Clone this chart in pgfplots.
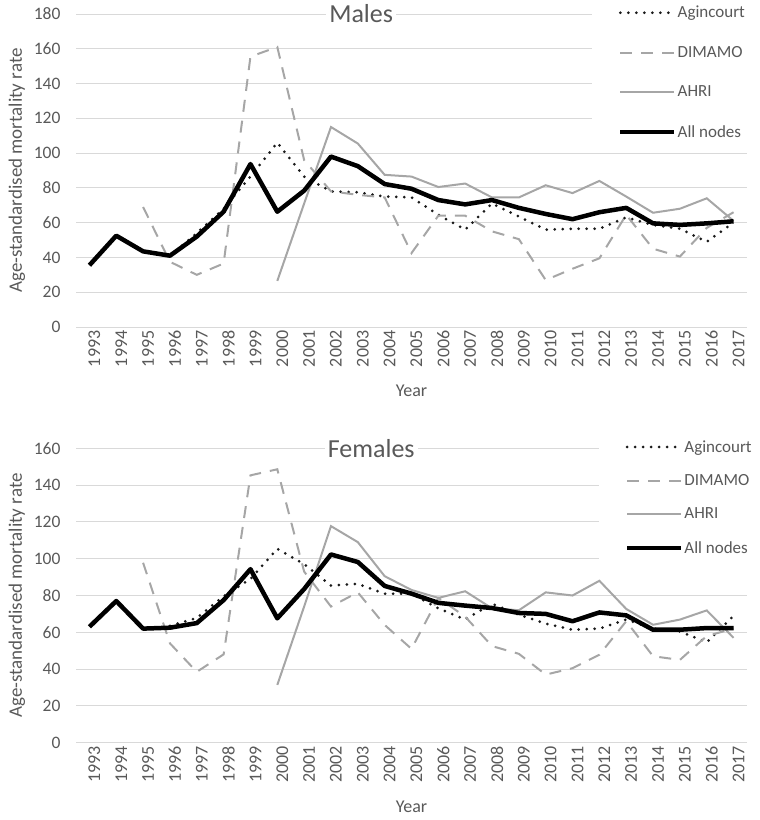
\documentclass[border=0pt]{standalone}
\usepackage{pgfplots}
\pgfplotsset{compat=1.18}
\usepackage{pgfplotstable}
\usepackage{fontspec}
\setmainfont{Carlito}
\definecolor{gridc}{HTML}{D9D9D9}
\definecolor{txt}{HTML}{595959}
\definecolor{lgray}{HTML}{A6A6A6}
\definecolor{dotc}{HTML}{1A1A1A}

\pgfplotstableread{
year agin dimamo ahri all
1993 nan nan nan 35.5
1994 nan nan nan 52.5
1995 nan 69 nan 43.5
1996 41 37.5 nan 41
1997 54 30 nan 52
1998 68 36.5 nan 66.3
1999 86.5 155.5 nan 93.7
2000 106 161 26.5 66.3
2001 86.5 96 71 78.4
2002 78 78 115 98
2003 77.5 76 105.5 92.5
2004 75 74.5 87.5 82.2
2005 74.5 42.5 86.5 79.5
2006 64.5 64 80.5 73
2007 56 64 82.5 70.5
2008 71 55 74.5 73
2009 63.5 50.5 74.5 68.5
2010 56 27 81.5 65
2011 56.5 33.5 77 62
2012 56.5 39.5 84 66
2013 63 64.5 75 68.5
2014 58.7 45 65.7 59.6
2015 56.5 40.5 68 58.7
2016 49 57 74 59.6
2017 60 66 61 60.8
}\males

\pgfplotstableread{
year agin dimamo ahri all
1993 nan nan nan 63
1994 nan nan nan 77
1995 nan 97.8 nan 62
1996 63.5 54 nan 62.5
1997 67.8 38.5 nan 65
1998 79.6 48 nan 77.5
1999 89 145.3 nan 94.3
2000 105.4 148.6 31.4 67.6
2001 97 93 74 83.5
2002 85.4 74 117.7 102.3
2003 86.3 81.7 109 98.2
2004 81 64 90.5 85.2
2005 81 51 83 81
2006 73 78.7 78.7 76
2007 67 68.5 82.3 74.5
2008 75.5 52.5 73 73.2
2009 69.6 48.3 72 70.5
2010 64.7 37 81.7 70
2011 61.4 40.5 80 66
2012 62 47.8 88 70.8
2013 66.9 66 72.7 69.2
2014 62 47 64.1 61.4
2015 60.5 45 66.9 61.4
2016 54.5 58 71.9 62.3
2017 69 62 57 62.3
}\females

\pgfplotsset{
  mystyle/.style={
    scale only axis,
    width=671bp,
    xmin=1992.5, xmax=2017.5,
    ymin=0,
    clip mode=individual,
    xtick={1993,...,2017},
    axis line style={draw=none},
    major tick length=0pt,
    ymajorgrids,
    grid style={gridc, line width=0.9bp},
    /pgf/number format/assume math mode=true,
    xticklabel style={/pgf/number format/1000 sep=, rotate=90, anchor=east, font=\fontsize{18bp}{20bp}\selectfont, text=txt, yshift=-5bp},
    yticklabel style={font=\fontsize{17.5bp}{20bp}\selectfont, text=txt, xshift=-12bp},
    xlabel={Year},
    ylabel={Age-standardised mortality rate},
    xlabel style={font=\fontsize{18bp}{20bp}\selectfont, text=txt, at={(axis description cs:0.5,0)}, anchor=center, yshift=-64bp},
    ylabel style={font=\fontsize{19bp}{22bp}\selectfont, text=txt, at={(axis description cs:-0.0879,0.5)}, anchor=center},
    legend cell align=left,
    legend image code/.code={\draw[##1] (0bp,0bp) -- (54bp,0bp);},
    legend style={draw=none, fill=white, font=\fontsize{17bp}{20bp}\selectfont, text=txt, anchor=north west, inner xsep=26bp, inner ysep=4bp, nodes={inner xsep=1bp, inner ysep=2bp}},
  },
  agin/.style={dotc, line width=3bp, line cap=round, dash pattern=on 0bp off 8bp},
  dima/.style={lgray, line width=2bp, dash pattern=on 12bp off 9bp},
  ahri/.style={lgray, line width=2bp},
  alln/.style={black, line width=4.5bp, line join=round},
}

\begin{document}
\begin{tikzpicture}
\useasboundingbox (0bp,0bp) rectangle (760bp,820bp);
\begin{axis}[mystyle, at={(76bp,493bp)}, anchor=south west, height=313bp,
  ymax=180, ytick={0,20,...,180},
  legend style={at={(rel axis cs:0.769,1.045)}, row sep=23bp}]
\addplot[agin] table[x=year,y=agin]{\males};
\addlegendentry{Agincourt}
\addplot[dima] table[x=year,y=dimamo]{\males};
\addlegendentry{DIMAMO}
\addplot[ahri] table[x=year,y=ahri]{\males};
\addlegendentry{AHRI}
\addplot[alln] table[x=year,y=all]{\males};
\addlegendentry{All nodes}
\node[fill=white, text=txt, font=\fontsize{26bp}{28bp}\selectfont, inner sep=3bp] at (rel axis cs:0.425,1) {Males};
\end{axis}
\begin{axis}[mystyle, at={(76bp,77.3bp)}, anchor=south west, height=294.4bp,
  ymax=160, ytick={0,20,...,160},
  legend style={at={(rel axis cs:0.779,1.048)}, row sep=17bp}]
\addplot[agin] table[x=year,y=agin]{\females};
\addlegendentry{Agincourt}
\addplot[dima] table[x=year,y=dimamo]{\females};
\addlegendentry{DIMAMO}
\addplot[ahri] table[x=year,y=ahri]{\females};
\addlegendentry{AHRI}
\addplot[alln] table[x=year,y=all]{\females};
\addlegendentry{All nodes}
\node[fill=white, text=txt, font=\fontsize{26bp}{28bp}\selectfont, inner sep=3bp] at (rel axis cs:0.44,1) {Females};
\end{axis}
\end{tikzpicture}
\end{document}
